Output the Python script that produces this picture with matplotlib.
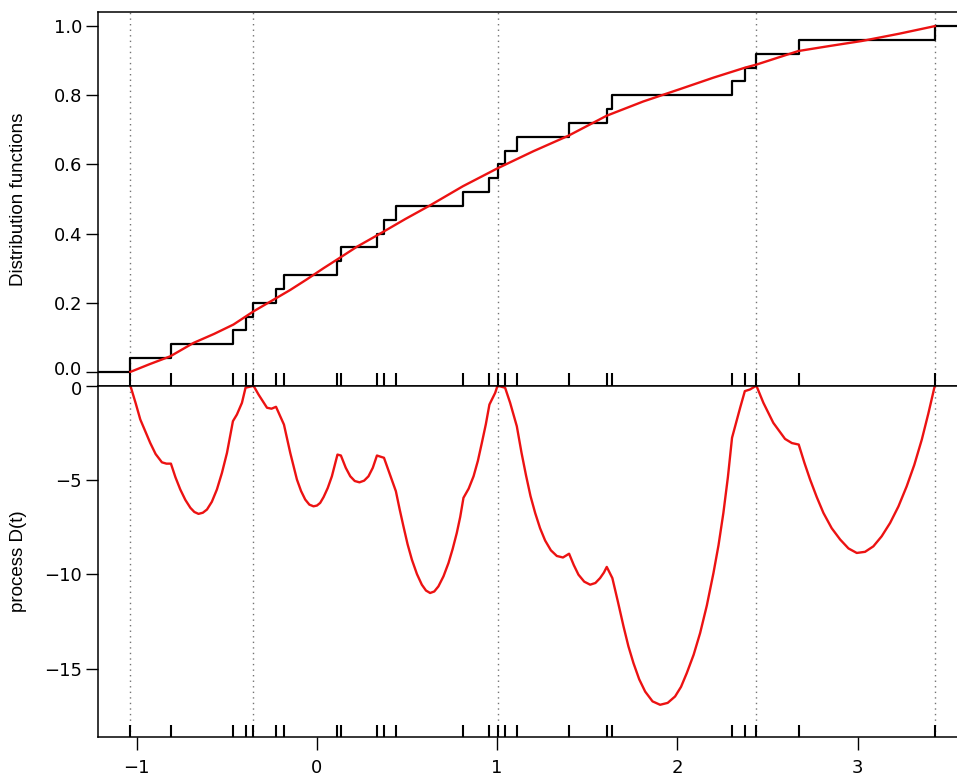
import matplotlib.pyplot as plt
from matplotlib.transforms import ScaledTranslation

plt.rcParams['font.family'] = ['Liberation Sans', 'DejaVu Sans']

# sorted sample (rug marks)
sample = [-1.035, -0.810, -0.466, -0.396, -0.352, -0.227, -0.183, 0.114, 0.133,
          0.333, 0.372, 0.438, 0.813, 0.957, 1.002, 1.044, 1.109, 1.399, 1.608,
          1.639, 2.303, 2.374, 2.438, 2.673, 3.428]

# knots where D(t) touches zero (dotted lines)
knots = [-1.035, -0.352, 1.002, 2.438, 3.428]

# fitted distribution function (red, top panel)
cdf_x = [-1.035, -0.930, -0.814, -0.684, -0.570, -0.463, -0.352, -0.250, -0.148,
         -0.055, 0.037, 0.130, 0.222, 0.351, 0.490, 0.629, 0.810, 0.999, 1.200,
         1.395, 1.608, 1.810, 2.015, 2.200, 2.376, 2.440, 2.671, 2.850, 3.023,
         3.230, 3.428]
cdf_y = [0.0, 0.022, 0.045, 0.084, 0.110, 0.137, 0.175, 0.206, 0.237,
         0.268, 0.300, 0.331, 0.362, 0.400, 0.442, 0.482, 0.537, 0.588, 0.638,
         0.683, 0.741, 0.782, 0.818, 0.851, 0.880, 0.889, 0.928, 0.943, 0.957,
         0.978, 1.0]

# process D(t) (red, bottom panel)
d_x = [-1.035, -1.005, -0.980, -0.925, -0.895, -0.860, -0.835, -0.810,
       -0.785, -0.758, -0.730, -0.702, -0.680, -0.657, -0.633, -0.610, -0.583,
       -0.555, -0.527, -0.499, -0.466, -0.444, -0.416, -0.396, -0.361, -0.352,
       -0.324, -0.277, -0.252, -0.227, -0.183, -0.148, -0.111, -0.088, -0.065,
       -0.042, -0.019, 0.000, 0.018, 0.037, 0.060, 0.083, 0.114, 0.133, 0.160,
       0.185, 0.210, 0.236, 0.262, 0.286, 0.310, 0.333, 0.372, 0.438, 0.459,
       0.480, 0.503, 0.527, 0.555, 0.582, 0.605, 0.628, 0.651, 0.674, 0.702,
       0.730, 0.753, 0.776, 0.795, 0.813, 0.842, 0.869, 0.893, 0.915, 0.937,
       0.957, 0.989, 1.002, 1.044, 1.072, 1.109, 1.135, 1.160, 1.185, 1.211,
       1.238, 1.266, 1.298, 1.331, 1.365, 1.399, 1.425, 1.451, 1.483, 1.516,
       1.545, 1.571, 1.592, 1.608, 1.639, 1.670, 1.701, 1.728, 1.756, 1.788,
       1.821, 1.862, 1.904, 1.946, 1.987, 2.020, 2.052, 2.090, 2.126, 2.163,
       2.200, 2.228, 2.255, 2.280, 2.303, 2.348, 2.374, 2.403, 2.438, 2.477,
       2.532, 2.597, 2.635, 2.673, 2.705, 2.736, 2.773, 2.810, 2.856, 2.903,
       2.949, 2.995, 3.041, 3.087, 3.133, 3.180, 3.226, 3.272, 3.314, 3.356,
       3.392, 3.428]
d_y = [0.0, -0.95, -1.79, -3.03, -3.62, -4.06, -4.13, -4.13,
       -4.85, -5.50, -6.05, -6.47, -6.69, -6.79, -6.73, -6.56, -6.15,
       -5.50, -4.62, -3.56, -1.88, -1.53, -0.91, -0.11, -0.03, 0.0,
       -0.47, -1.17, -1.22, -1.12, -2.06, -3.56, -4.97, -5.58, -6.03,
       -6.30, -6.39, -6.35, -6.21, -5.90, -5.42, -4.80, -3.65, -3.70, -4.35,
       -4.80, -5.05, -5.12, -5.03, -4.80, -4.35, -3.70, -3.82, -5.59, -6.55,
       -7.45, -8.40, -9.22, -9.98, -10.54, -10.85, -10.98, -10.90, -10.63, -10.10,
       -9.39, -8.65, -7.80, -6.95, -5.94, -5.45, -4.80, -3.98, -3.03, -2.05,
       -1.00, -0.38, 0.0, -0.11, -0.91, -2.15, -3.55, -4.75, -5.85, -6.75,
       -7.55, -8.20, -8.72, -9.02, -9.10, -8.90, -9.50, -10.01, -10.38, -10.54,
       -10.45, -10.19, -9.90, -9.60, -10.19, -11.45, -12.75, -13.80, -14.69, -15.55,
       -16.20, -16.72, -16.90, -16.80, -16.46, -15.95, -15.22, -14.25, -13.10, -11.65,
       -9.92, -8.45, -6.74, -4.85, -2.76, -1.17, -0.29, -0.20, 0.0, -0.91,
       -1.97, -2.82, -3.04, -3.12, -4.10, -4.97, -5.90, -6.74, -7.55, -8.15,
       -8.62, -8.86, -8.80, -8.51, -7.98, -7.27, -6.40, -5.33, -4.20, -2.85,
       -1.48, 0.0]

xlo, xhi = -1.2146, 3.5957
n = len(sample)
ecdf_x = [xlo] + sample + [xhi]
ecdf_y = [0.0] + [(i + 1) / n for i in range(n)] + [1.0]

red = '#ec1212'

fig = plt.figure(figsize=(9.57, 7.78), dpi=100)
ax1 = fig.add_axes([0.1024, 0.5042, 0.906, 0.48])
ax2 = fig.add_axes([0.1024, 0.0531, 0.906, 0.4512])

# top panel: distribution functions
for k in knots:
    ax1.axvline(k, color='0.45', linestyle=(0, (1, 3)), lw=1)
ax1.step(ecdf_x, ecdf_y, where='post', color='black', lw=1.6)
ax1.plot(cdf_x, cdf_y, color=red, lw=1.7)
ax1.vlines(sample, 0, 0.034, transform=ax1.get_xaxis_transform(), color='black', lw=1.5)
ax1.set_xlim(xlo, xhi)
ax1.set_ylim(-0.04, 1.04)
ax1.set_yticks([0.0, 0.2, 0.4, 0.6, 0.8, 1.0])
ax1.set_yticklabels(['0.0', '0.2', '0.4', '0.6', '0.8', '1.0'])
ax1.tick_params(axis='x', bottom=False, labelbottom=False)
ax1.set_ylabel('Distribution functions', fontsize=13.5)
ax1.yaxis.set_label_coords(-0.082, 0.5)

# bottom panel: process D(t)
for k in knots:
    ax2.axvline(k, color='0.45', linestyle=(0, (1, 3)), lw=1)
ax2.plot(d_x, d_y, color=red, lw=1.7)
ax2.vlines(sample, 0, 0.034, transform=ax2.get_xaxis_transform(), color='black', lw=1.5)
ax2.set_xlim(xlo, xhi)
ax2.set_ylim(-18.59, 0.0)
ax2.set_yticks([0, -5, -10, -15])
ax2.set_xticks([-1, 0, 1, 2, 3])
ax2.set_ylabel('process D(t)', fontsize=13.5)
ax2.yaxis.set_label_coords(-0.082, 0.5)

for ax in (ax1, ax2):
    ax.tick_params(direction='out', length=9, width=1, labelsize=13, pad=2.5)
    for lab in ax.get_xticklabels() + ax.get_yticklabels():
        lab.set_family('DejaVu Sans')
    for sp in ax.spines.values():
        sp.set_linewidth(1.1)
ax2.tick_params(axis='x', pad=7)

# the "0.0" and "0" labels sit right on top of each other: nudge them apart
lab_top = ax1.get_yticklabels()[0]
lab_top.set_transform(lab_top.get_transform() + ScaledTranslation(0, 2.5 / 72, fig.dpi_scale_trans))
lab_bot = ax2.get_yticklabels()[0]
lab_bot.set_transform(lab_bot.get_transform() + ScaledTranslation(0, -2.0 / 72, fig.dpi_scale_trans))

fig.savefig('out.png', dpi=100)
